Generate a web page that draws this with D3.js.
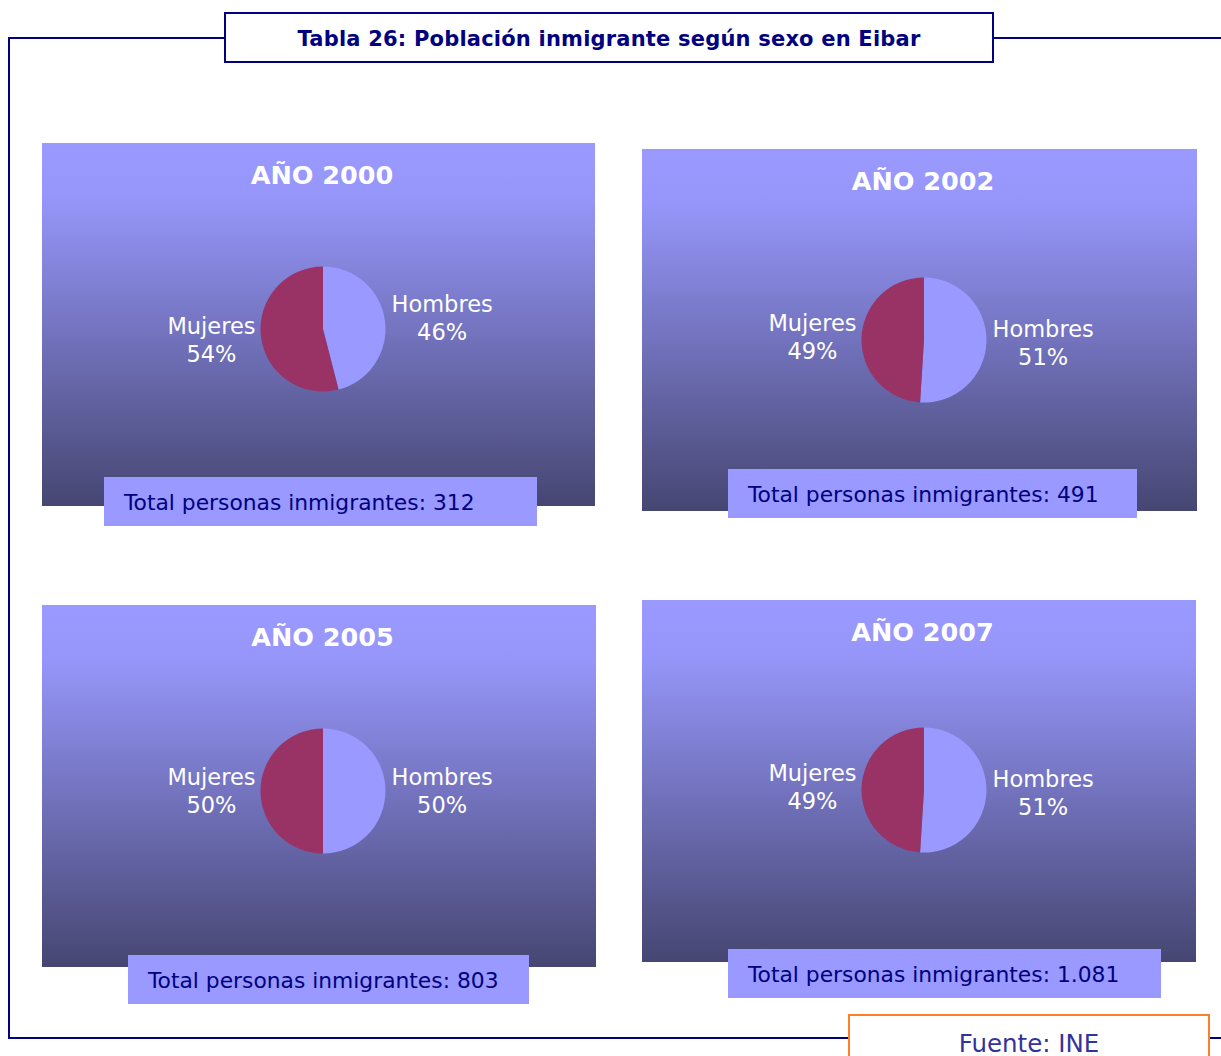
<!DOCTYPE html>
<html>
<head>
<meta charset="utf-8">
<script src="https://cdn.jsdelivr.net/npm/d3@7"></script>
<style>
  html, body { margin: 0; padding: 0; background: #fff; }
  svg { display: block; }
</style>
</head>
<body>
<div id="chart"></div>
<script>
// Values
var years = [2000, 2002, 2005, 2007];
var sexes = ['Hombres', 'Mujeres'];
var hombresPct = [46, 51, 50, 51];
var mujeresPct = [54, 49, 50, 49];
var totals = [312, 491, 803, 1081];

var titleText = 'Tabla 26: Población inmigrante según sexo en Eibar';
var sourceText = 'Fuente: INE';

// Panel geometry (px), one per year; pie = pie centre
var panels = [
  {x: 42,  y: 143, w: 553, h: 363, pie: [323, 329], box: {x: 104, y: 477, w: 433}},
  {x: 642, y: 149, w: 555, h: 362, pie: [924, 340], box: {x: 728, y: 469, w: 409}},
  {x: 42,  y: 605, w: 554, h: 362, pie: [323, 791], box: {x: 128, y: 955, w: 401}},
  {x: 642, y: 600, w: 554, h: 362, pie: [924, 790], box: {x: 728, y: 949, w: 433}}
];

var W = 1221, H = 1056,
    navy = '#000080',
    font = '"DejaVu Sans", Verdana, sans-serif',
    radius = 62.5;

var color = d3.scaleOrdinal().domain(sexes).range(['#9999ff', '#993366']);
var es = d3.formatLocale({decimal: ',', thousands: '.', grouping: [3], currency: ['', ' €']});
var fmtTotal = es.format(',d');

var svg = d3.select('#chart').append('svg')
    .attr('width', W)
    .attr('height', H)
    .style('font-family', font);

var defs = svg.append('defs');
var grad = defs.append('linearGradient')
    .attr('id', 'panelGrad')
    .attr('x1', 0).attr('y1', 0).attr('x2', 0).attr('y2', 1);
grad.append('stop').attr('offset', '0').attr('stop-color', '#9999ff');
grad.append('stop').attr('offset', '0.15').attr('stop-color', '#9696fa');
grad.append('stop').attr('offset', '1').attr('stop-color', '#464672');

// outer frame
svg.append('path')
    .attr('d', 'M225,38H9V1038H849M1209,1038H1221M993,38H1221')
    .attr('fill', 'none')
    .attr('stroke', navy)
    .attr('stroke-width', 2);

// title box
svg.append('rect')
    .attr('x', 225).attr('y', 13).attr('width', 768).attr('height', 49)
    .attr('fill', '#fff').attr('stroke', navy).attr('stroke-width', 2);
svg.append('text')
    .attr('x', 609).attr('y', 39)
    .attr('text-anchor', 'middle')
    .attr('dominant-baseline', 'central')
    .attr('fill', navy)
    .attr('font-weight', 'bold')
    .attr('font-size', 21)
    .attr('letter-spacing', 0.2)
    .text(titleText);

var pie = d3.pie().sort(null).value(function(d) { return d.value; });
var arc = d3.arc().innerRadius(0).outerRadius(radius);

years.forEach(function(year, i) {
  var p = panels[i],
      cx = p.pie[0],
      cy = p.pie[1],
      g = svg.append('g');

  g.append('rect')
      .attr('x', p.x).attr('y', p.y).attr('width', p.w).attr('height', p.h)
      .attr('fill', 'url(#panelGrad)');

  g.append('text')
      .attr('x', p.x + p.w / 2 + 3.5).attr('y', p.y + 32)
      .attr('text-anchor', 'middle')
      .attr('dominant-baseline', 'central')
      .attr('fill', '#fff')
      .attr('font-weight', 'bold')
      .attr('font-size', 25.5)
      .text('AÑO ' + year);

  var data = [
    {name: sexes[0], value: hombresPct[i]},
    {name: sexes[1], value: mujeresPct[i]}
  ];
  var slices = pie(data);
  var pg = g.append('g').attr('transform', 'translate(' + cx + ',' + cy + ')');

  pg.selectAll('path').data(slices).enter().append('path')
      .attr('d', arc)
      .attr('fill', function(d) { return color(d.data.name); });

  // labels: outside the pie, at the slice's mid angle
  slices.forEach(function(s) {
    var a = (s.startAngle + s.endAngle) / 2,
        right = Math.sin(a) > 0,
        ly = -Math.cos(a) * 88;
    var t = pg.append('text')
        .attr('text-anchor', 'middle')
        .attr('fill', '#fff')
        .attr('font-size', 22.5);
    t.append('tspan').attr('x', 0).attr('y', ly - 14).attr('dominant-baseline', 'central')
        .text(s.data.name);
    t.append('tspan').attr('x', 0).attr('y', ly + 14).attr('dominant-baseline', 'central')
        .text(s.data.value + '%');
    var w = t.node().getBBox().width;
    var lx = right ? radius + 6 + w / 2 : -(radius + 5 + w / 2);
    t.selectAll('tspan').attr('x', lx);
  });

  // total box
  g.append('rect')
      .attr('x', p.box.x).attr('y', p.box.y).attr('width', p.box.w).attr('height', 49)
      .attr('fill', '#9999ff');
  g.append('text')
      .attr('x', p.box.x + 20).attr('y', p.box.y + 25)
      .attr('dominant-baseline', 'central')
      .attr('fill', navy)
      .attr('font-size', 21.8)
      .text('Total personas inmigrantes: ' + fmtTotal(totals[i]));
});

// source box
svg.append('rect')
    .attr('x', 849).attr('y', 1015).attr('width', 360).attr('height', 60)
    .attr('fill', '#fff').attr('stroke', '#ff7f27').attr('stroke-width', 2);
svg.append('text')
    .attr('x', 1029).attr('y', 1043)
    .attr('text-anchor', 'middle')
    .attr('dominant-baseline', 'central')
    .attr('fill', '#333399')
    .attr('font-size', 24.5)
    .text(sourceText);
</script>
</body>
</html>
